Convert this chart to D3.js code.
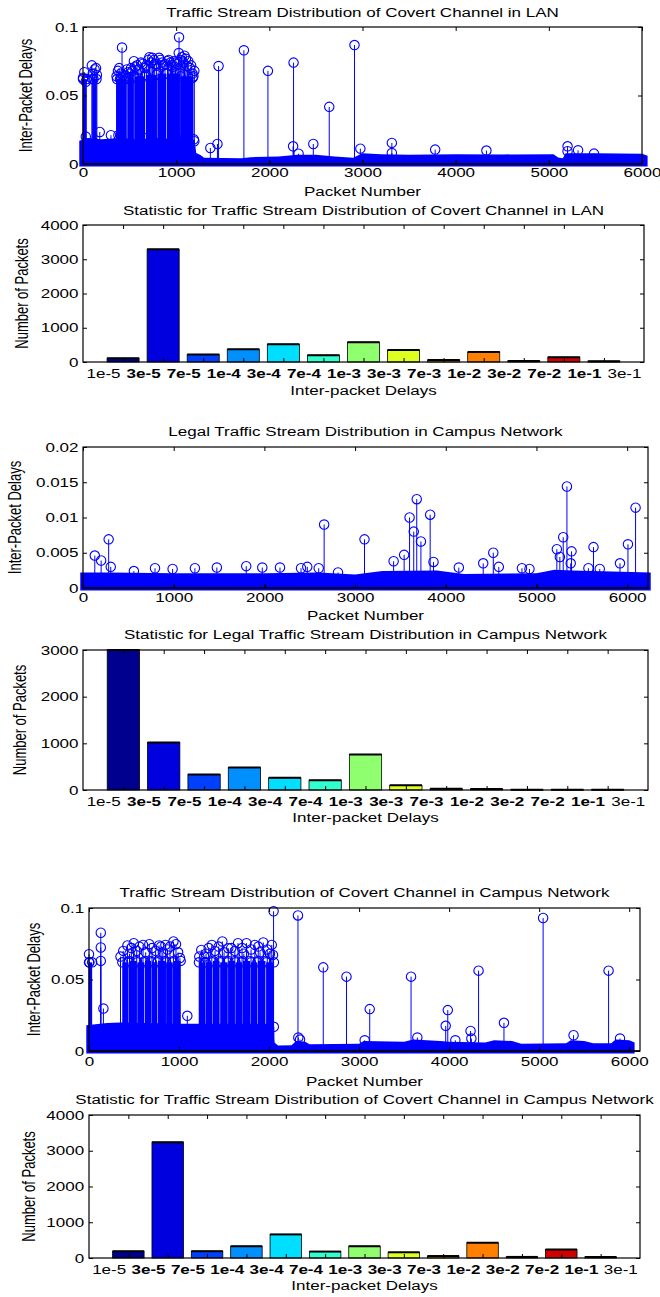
<!DOCTYPE html>
<html>
<head>
<meta charset="utf-8">
<script src="https://cdn.jsdelivr.net/npm/d3@7"></script>
<style>
  body { margin: 0; background: #fff; }
  svg text { font-family: "Liberation Sans", Arial, sans-serif; fill: #000; }
</style>
</head>
<body>
<svg id="fig" width="660" height="1297"></svg>
<script>
// ---- data ----

// histogram bin edges (shared by the three bar charts)
const delayLabels = ["1e-5", "3e-5", "7e-5", "1e-4", "3e-4", "7e-4", "1e-3",
  "3e-3", "7e-3", "1e-2", "3e-2", "7e-2", "1e-1", "3e-1"];

// packets per bin
const lanCovertCounts = [110, 3290, 220, 370, 520, 200, 580, 350, 60, 290, 30, 140, 25];
const campusLegalCounts = [3000, 1020, 330, 480, 260, 210, 760, 100, 25, 20, 8, 5, 5];
const campusCovertCounts = [190, 3240, 190, 330, 660, 180, 330, 160, 55, 430, 30, 240, 30];

// jet colours of the 13 bars
const barColors = ["#00008f", "#0000df", "#0040ff", "#008fff", "#00dfff", "#30ffcf",
  "#8fff6f", "#dfff20", "#ffcf00", "#ff8000", "#ff2000", "#cf0000", "#800000"];

// tick labels
const packetTicks = [0, 1000, 2000, 3000, 4000, 5000, 6000];
const delayTicksCovert = [0, 0.05, 0.1];
const delayTicksLegal = [0, 0.005, 0.01, 0.015, 0.02];
const countTicks4000 = [0, 1000, 2000, 3000, 4000];
const countTicks3000 = [0, 1000, 2000, 3000];

// stem plots: single stems [packet, delay]
const lanCovertStems = [
  [0, 0.063], [14, 0.067], [30, 0.060], [95, 0.072], [105, 0.066], [113, 0.062], [125, 0.069],
  [140, 0.070], [149, 0.065], [180, 0.0234], [30, 0.020], [300, 0.021], [380, 0.021], [650, 0.019],
  [1000, 0.019], [1190, 0.018],
  [360, 0.064], [375, 0.068], [388, 0.070], [397, 0.062], [405, 0.066], [419, 0.085], [430, 0.065],
  [455, 0.064], [470, 0.069], [485, 0.067], [500, 0.066], [515, 0.070], [530, 0.068], [546, 0.075],
  [560, 0.071], [580, 0.072], [600, 0.069], [622, 0.074], [640, 0.073], [660, 0.070], [680, 0.072],
  [700, 0.076], [713, 0.078], [730, 0.074], [744, 0.0775], [760, 0.076], [770, 0.073], [790, 0.073],
  [816, 0.0775], [830, 0.076], [850, 0.074], [860, 0.072], [880, 0.073], [907, 0.075], [920, 0.076],
  [938, 0.074], [950, 0.072], [960, 0.071], [975, 0.075], [990, 0.074], [1010, 0.073],
  [1031, 0.0925], [1028, 0.081], [1045, 0.076], [1060, 0.078], [1075, 0.074], [1090, 0.079],
  [1105, 0.0768], [1119, 0.0715], [1130, 0.075], [1150, 0.070], [1160, 0.072], [1175, 0.066],
  [1177, 0.063], [1195, 0.068], [1195, 0.0166],
  [1367, 0.0117], [1443, 0.0146], [1455, 0.0715], [1727, 0.083], [1985, 0.068], [2260, 0.074],
  [2255, 0.0129], [2314, 0.0075], [2472, 0.0146], [2643, 0.0417], [2914, 0.0868], [2977, 0.0112],
  [3315, 0.0154], [3315, 0.008], [3780, 0.0105], [4330, 0.0098], [5201, 0.0129], [5201, 0.0093],
  [5314, 0.010], [5485, 0.0076]
];
// runs of stems so dense they merge: [fromPacket, toPacket, delay]
const lanCovertBursts = [
  [0, 40, 0.062], [100, 145, 0.062], [365, 465, 0.062], [478, 545, 0.063], [553, 665, 0.064],
  [675, 790, 0.065], [798, 895, 0.066], [903, 1040, 0.066], [1048, 1185, 0.064]
];
// upper edge of the packed circles along the bottom: [packet, delay]
const lanCovertBand = [
  [-40, 0.017], [50, 0.019], [200, 0.018], [400, 0.019], [600, 0.018], [800, 0.019], [1000, 0.018],
  [1150, 0.019], [1200, 0.017], [1215, 0.008], [1260, 0.0066], [1300, 0.0045], [1700, 0.0042],
  [1800, 0.005], [2100, 0.0055], [2300, 0.0068], [2500, 0.0068], [2700, 0.0055], [2900, 0.0045],
  [3000, 0.0078], [3200, 0.0072], [3500, 0.0068], [4000, 0.0072], [4500, 0.007], [5050, 0.0072],
  [5100, 0.0048], [5150, 0.0042], [5180, 0.0078], [5500, 0.0078], [6000, 0.0075], [6060, 0.006]
];

const campusLegalStems = [
  [130, 0.0046], [200, 0.0039], [283, 0.0069], [306, 0.003], [561, 0.0024], [794, 0.0028],
  [988, 0.0027], [1234, 0.0028], [1476, 0.0029], [1800, 0.0031], [1977, 0.0029], [2172, 0.0029],
  [2404, 0.0028], [2473, 0.003], [2599, 0.0028], [2659, 0.009], [2812, 0.0022], [3104, 0.0069],
  [3425, 0.0038], [3541, 0.0047], [3601, 0.010], [3647, 0.008], [3680, 0.0126], [3726, 0.0066],
  [3828, 0.0104], [3865, 0.0037], [4144, 0.0029], [4413, 0.0035], [4524, 0.005], [4585, 0.003],
  [4840, 0.0028], [4923, 0.0027], [5225, 0.0055], [5258, 0.0044], [5295, 0.0072], [5336, 0.0144],
  [5378, 0.0035], [5387, 0.0052], [5573, 0.0028], [5629, 0.0058], [5698, 0.0027], [5921, 0.0035],
  [6009, 0.0062], [6093, 0.0114]
];
const campusLegalBursts = [];
const campusLegalBand = [
  [-30, 0.0022], [300, 0.0022], [1000, 0.0021], [2000, 0.0021], [2600, 0.0022], [3000, 0.0019],
  [3300, 0.0024], [3900, 0.0025], [4200, 0.002], [5000, 0.0021], [5200, 0.0026], [5400, 0.0025],
  [6260, 0.0022]
];

const campusCovertStems = [
  [0, 0.0677], [5, 0.062], [131, 0.0827], [131, 0.0724], [131, 0.063], [160, 0.0297],
  [350, 0.066], [380, 0.070], [427, 0.0738], [450, 0.068], [470, 0.072], [497, 0.0754],
  [530, 0.070], [560, 0.073], [600, 0.0742], [630, 0.069], [670, 0.0747], [700, 0.072],
  [740, 0.070], [778, 0.0738], [800, 0.073], [820, 0.069], [849, 0.0742], [870, 0.071],
  [900, 0.073], [938, 0.0766], [966, 0.0747], [990, 0.069], [1010, 0.065], [1092, 0.0246],
  [1225, 0.066], [1247, 0.0707], [1280, 0.066], [1300, 0.068], [1330, 0.072], [1364, 0.0742],
  [1400, 0.070], [1440, 0.073], [1481, 0.0766], [1500, 0.069], [1547, 0.0719], [1580, 0.072],
  [1620, 0.070], [1655, 0.0754], [1700, 0.072], [1720, 0.068], [1749, 0.0754], [1800, 0.071],
  [1842, 0.0742], [1880, 0.073], [1900, 0.069], [1936, 0.0759], [1980, 0.071], [2010, 0.068],
  [2030, 0.0742], [2044, 0.0672], [2050, 0.0977], [2053, 0.0169], [2321, 0.0948], [2325, 0.0094],
  [2344, 0.008], [2602, 0.0585], [2860, 0.052], [3062, 0.0075], [3118, 0.0293], [3577, 0.052],
  [3647, 0.0094], [3962, 0.0176], [3985, 0.0286], [4069, 0.0075], [4238, 0.014], [4247, 0.0087],
  [4327, 0.0562], [4609, 0.0197], [5044, 0.093], [5382, 0.011], [5771, 0.0562], [5898, 0.0087]
];
const campusCovertBursts = [
  [0, 35, 0.062],
  [370, 440, 0.062], [447, 530, 0.063], [537, 615, 0.062], [622, 690, 0.063], [697, 760, 0.062],
  [767, 850, 0.063], [857, 930, 0.062], [937, 1018, 0.063],
  [1221, 1290, 0.062], [1297, 1370, 0.062], [1377, 1450, 0.063], [1457, 1540, 0.062],
  [1547, 1620, 0.063], [1627, 1700, 0.062], [1707, 1790, 0.063], [1797, 1870, 0.062],
  [1877, 1960, 0.063], [1967, 2054, 0.062]
];
const campusCovertBand = [
  [-30, 0.018], [200, 0.0195], [350, 0.02], [1000, 0.019], [1500, 0.019], [2040, 0.019],
  [2060, 0.006], [2100, 0.0038], [2250, 0.004], [2300, 0.007], [2400, 0.0065], [2450, 0.0048],
  [3000, 0.005], [3050, 0.007], [3500, 0.0065], [3600, 0.008], [3900, 0.007], [4000, 0.0065],
  [4400, 0.006], [4500, 0.0075], [4700, 0.007], [4800, 0.005], [5300, 0.0055], [5350, 0.0075],
  [5500, 0.007], [5600, 0.0055], [5800, 0.0055], [5850, 0.008], [6000, 0.0075], [6060, 0.006]
];

// ---- drawing ----
const svg = d3.select("#fig");
const BLUE = "#0000ff";
const FS = 12.5;      // font size
const SX = 1.36;      // the figure is stretched sideways, so is its text
const R = 4.7;        // stem marker radius

function label(x, y, str, rotate) {
  return svg.append("text")
    .attr("transform", "translate(" + x + "," + y + ") scale(" + SX + ",1)" + (rotate ? " rotate(-90)" : ""))
    .attr("text-anchor", "middle")
    .style("font-size", (rotate ? 13 : FS) + "px")
    .text(str);
}

// box, inward ticks on all four sides, tick labels
function frame(p, x, y, xTicks, xFormat, yTicks, yFormat, xLabelTicks) {
  let g = svg.append("g").style("color", "#000");
  let strip = s => s.call(a => a.select(".domain").remove());

  g.append("g").attr("transform", "translate(0," + p.bottom + ")")
    .call(d3.axisBottom(x).tickValues(xTicks).tickSize(-4).tickFormat("")).call(strip);
  g.append("g").attr("transform", "translate(0," + p.top + ")")
    .call(d3.axisTop(x).tickValues(xTicks).tickSize(-4).tickFormat("")).call(strip);
  g.append("g").attr("transform", "translate(" + p.right + ",0)")
    .call(d3.axisRight(y).tickValues(yTicks).tickSize(-4).tickFormat("")).call(strip);

  let yAxis = g.append("g").attr("transform", "translate(" + p.left + ",0)")
    .call(d3.axisLeft(y).tickValues(yTicks).tickSize(-4).tickPadding(p.yPad).tickFormat(yFormat))
    .call(strip);
  yAxis.selectAll("text").attr("transform", "scale(" + SX + ",1)").style("font-size", FS + "px");

  let xAxis = g.append("g").attr("transform", "translate(0," + p.bottom + ")")
    .call(d3.axisBottom(x).tickValues(xLabelTicks || xTicks).tickSize(xLabelTicks ? 0 : -4)
      .tickPadding(p.xPad).tickFormat(xFormat))
    .call(strip);
  xAxis.selectAll("text").attr("transform", "scale(" + SX + ",1)").style("font-size", FS + "px");

  g.append("rect")
    .attr("x", p.left).attr("y", p.top)
    .attr("width", p.right - p.left).attr("height", p.bottom - p.top)
    .attr("fill", "none").attr("stroke", "#000").attr("stroke-width", 1.2);

  let cx = (p.left + p.right) / 2;
  label(cx, p.titleY, p.title);
  label(cx, p.xLabelY, p.xLabel);
  label(p.yLabelX, (p.top + p.bottom) / 2, p.yLabel, true);
  return xAxis;
}

function stemPanel(p, stems, bursts, band, yTicks) {
  let x = d3.scaleLinear().domain(p.xDomain).range([p.left, p.right]);
  let y = d3.scaleLinear().domain(p.yDomain).range([p.bottom, p.top]);
  let g = svg.append("g");

  g.append("path").datum(band)
    .attr("d", d3.area().x(d => x(d[0])).y0(y(0) + 2.5).y1(d => y(d[1])))
    .attr("fill", BLUE);

  g.selectAll("rect.burst").data(bursts).join("rect")
    .attr("class", "burst")
    .attr("x", d => x(d[0]))
    .attr("width", d => x(d[1]) - x(d[0]))
    .attr("y", d => y(d[2]))
    .attr("height", d => y(0) - y(d[2]))
    .attr("fill", BLUE);
  bursts.forEach(function (d) {
    [d[0], d[1]].forEach(function (px) {
      g.append("circle").attr("cx", x(px)).attr("cy", y(d[2])).attr("r", R)
        .attr("fill", "none").attr("stroke", BLUE).attr("stroke-width", 1.1);
    });
  });

  g.selectAll("line.stem").data(stems).join("line")
    .attr("class", "stem")
    .attr("x1", d => x(d[0])).attr("x2", d => x(d[0]))
    .attr("y1", y(0)).attr("y2", d => y(d[1]))
    .attr("stroke", BLUE).attr("stroke-width", 1);
  g.selectAll("circle.stem").data(stems).join("circle")
    .attr("class", "stem")
    .attr("cx", d => x(d[0])).attr("cy", d => y(d[1])).attr("r", R)
    .attr("fill", "none").attr("stroke", BLUE).attr("stroke-width", 1.1);

  // stem baseline
  g.append("line").attr("x1", p.left).attr("x2", p.right)
    .attr("y1", y(0)).attr("y2", y(0)).attr("stroke", "#000").attr("stroke-width", 1.5);

  frame(p, x, y, packetTicks, d3.format("d"), yTicks, d => d === 0 ? "0" : d3.format("~g")(d));
}

function barPanel(p, counts, yTicks) {
  let x = d3.scaleLinear().domain([0.5, delayLabels.length + 0.5]).range([p.left, p.right]);
  let y = d3.scaleLinear().domain(p.yDomain).range([p.bottom, p.top]);
  let bw = 0.8;
  let g = svg.append("g");

  // each bar sits between two bin-edge labels
  g.selectAll("rect").data(counts).join("rect")
    .attr("x", (d, i) => x(i + 1.5 - bw / 2))
    .attr("width", x(1 + bw) - x(1))
    .attr("y", d => y(d))
    .attr("height", d => y(0) - y(d))
    .attr("fill", (d, i) => barColors[i])
    .attr("stroke", "#000").attr("stroke-width", 0.8);
  g.selectAll("line").data(counts).join("line")
    .attr("x1", (d, i) => x(i + 1.5 - bw / 2)).attr("x2", (d, i) => x(i + 1.5 + bw / 2))
    .attr("y1", d => y(d)).attr("y2", d => y(d))
    .attr("stroke", "#000").attr("stroke-width", 2);

  let barTicks = counts.map((d, i) => i + 1.5);
  let labelTicks = delayLabels.map((d, i) => i + 1);
  let xAxis = frame(p, x, y, barTicks, (d, i) => delayLabels[i], yTicks, d3.format("d"), labelTicks);
  xAxis.selectAll("text")
    .style("font-weight", (d, i) => (i === 0 || i === delayLabels.length - 1) ? "normal" : "bold");
}

stemPanel({
  left: 83, right: 642, top: 27, bottom: 164, xDomain: [0, 6000], yDomain: [0, 0.1],
  xPad: 4, yPad: 3.3, titleY: 17, xLabelY: 196, yLabelX: 32,
  title: "Traffic Stream Distribution of Covert Channel in LAN",
  xLabel: "Packet Number", yLabel: "Inter-Packet Delays"
}, lanCovertStems, lanCovertBursts, lanCovertBand, delayTicksCovert);

barPanel({
  left: 83, right: 644, top: 225, bottom: 362, yDomain: [0, 4000],
  xPad: 7, yPad: 3.3, titleY: 215, xLabelY: 395, yLabelX: 28,
  title: "Statistic for Traffic Stream Distribution of Covert Channel in LAN",
  xLabel: "Inter-packet Delays", yLabel: "Number of Packets"
}, lanCovertCounts, countTicks4000);

stemPanel({
  left: 83, right: 648, top: 447, bottom: 588, xDomain: [0, 6230], yDomain: [0, 0.02],
  xPad: 5, yPad: 3.3, titleY: 436, xLabelY: 620, yLabelX: 21,
  title: "Legal Traffic Stream Distribution in Campus Network",
  xLabel: "Packet Number", yLabel: "Inter-Packet Delays"
}, campusLegalStems, campusLegalBursts, campusLegalBand, delayTicksLegal);

barPanel({
  left: 83, right: 648, top: 650, bottom: 790, yDomain: [0, 3000],
  xPad: 7, yPad: 3.3, titleY: 639, xLabelY: 822, yLabelX: 26,
  title: "Statistic for Legal Traffic Stream Distribution in Campus Network",
  xLabel: "Inter-packet Delays", yLabel: "Number of Packets"
}, campusLegalCounts, countTicks3000);

stemPanel({
  left: 89, right: 640, top: 908, bottom: 1051, xDomain: [0, 6120], yDomain: [0, 0.1],
  xPad: 6, yPad: 3.6, titleY: 897, xLabelY: 1086, yLabelX: 40,
  title: "Traffic Stream Distribution of Covert Channel in Campus Network",
  xLabel: "Packet Number", yLabel: "Inter-Packet Delays"
}, campusCovertStems, campusCovertBursts, campusCovertBand, delayTicksCovert);

barPanel({
  left: 89, right: 640, top: 1115, bottom: 1258, yDomain: [0, 4000],
  xPad: 7, yPad: 3.6, titleY: 1104, xLabelY: 1290, yLabelX: 35,
  title: "Statistic for Traffic Stream Distribution of Covert Channel in Campus Network",
  xLabel: "Inter-packet Delays", yLabel: "Number of Packets"
}, campusCovertCounts, countTicks4000);
</script>
</body>
</html>
